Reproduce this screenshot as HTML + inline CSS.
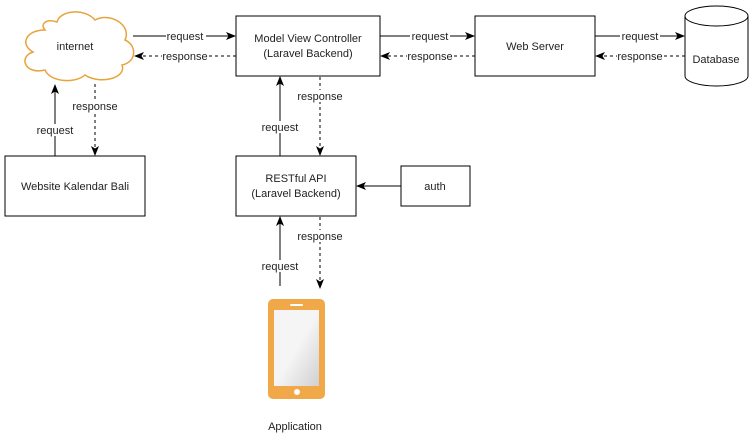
<!DOCTYPE html>
<html><head><style>body{margin:0;background:#fff}svg{display:block}text{font-family:"Liberation Sans",sans-serif;font-size:11px;fill:#222}</style></head><body>
<svg width="751" height="447" viewBox="0 0 751 447">
<defs>
<marker id="a" markerWidth="10" markerHeight="10" refX="9" refY="5" orient="auto" markerUnits="userSpaceOnUse"><path d="M0,1 L10,5 L0,9 L2.5,5z" fill="#000"/></marker>
</defs>
<g stroke="#000" fill="none" stroke-width="1">
<path d="M45,30 C25,30 20,45 33,52 C18,57 25,75 45,70 C50,82 75,84 85,75 C100,85 127,78 122,65 C137,62 137,45 125,40 C132,25 110,12 95,20 C85,8 60,10 57,22 C45,18 40,25 45,30z" stroke="#e8a33c" stroke-width="1.5" fill="#fff"/>
<rect x="236" y="16" width="144" height="60"/>
<rect x="475" y="16" width="120" height="60"/>
<rect x="5" y="156" width="140" height="60"/>
<rect x="236" y="156" width="120" height="60"/>
<rect x="401" y="166" width="69" height="40"/>
<path d="M685,16 L685,76 A31.5,10 0 0 0 748,76 L748,16"/>
<ellipse cx="716.5" cy="16" rx="31.5" ry="10"/>
<line x1="133" y1="36" x2="235" y2="36" marker-end="url(#a)"/>
<line x1="236" y1="56" x2="135" y2="56" stroke-dasharray="3,3" marker-end="url(#a)"/>
<line x1="380" y1="36" x2="474" y2="36" marker-end="url(#a)"/>
<line x1="475" y1="56" x2="381" y2="56" stroke-dasharray="3,3" marker-end="url(#a)"/>
<line x1="595" y1="36" x2="684" y2="36" marker-end="url(#a)"/>
<line x1="685" y1="56" x2="596" y2="56" stroke-dasharray="3,3" marker-end="url(#a)"/>
<line x1="55" y1="156" x2="55" y2="85" marker-end="url(#a)"/>
<line x1="95" y1="84" x2="95" y2="155" stroke-dasharray="3,3" marker-end="url(#a)"/>
<line x1="280" y1="156" x2="280" y2="77" marker-end="url(#a)"/>
<line x1="320" y1="77" x2="320" y2="155" stroke-dasharray="3,3" marker-end="url(#a)"/>
<line x1="280" y1="286" x2="280" y2="217" marker-end="url(#a)"/>
<line x1="320" y1="217" x2="320" y2="288" stroke-dasharray="3,3" marker-end="url(#a)"/>
<line x1="401" y1="186" x2="357" y2="186" marker-end="url(#a)"/>
</g>
<rect x="268" y="299" width="57" height="100" rx="5" fill="#f0a848"/>
<defs><linearGradient id="g" x1="0" y1="0" x2="1" y2="1"><stop offset="0.5" stop-color="#f5f5f5"/><stop offset="1" stop-color="#d0d0d0"/></linearGradient></defs>
<rect x="274" y="310" width="45" height="76" fill="url(#g)"/>
<rect x="290" y="304" width="13" height="2" rx="1" fill="#fff"/>
<circle cx="297" cy="392" r="3" fill="#fff"/>
<g text-anchor="middle">
<text x="75" y="50" font-size="12">internet</text>
<text x="308" y="42" font-size="12.5">Model View Controller</text>
<text x="308" y="57" font-size="12.5">(Laravel Backend)</text>
<text x="535" y="50" font-size="12.5">Web Server</text>
<text x="716" y="63" font-size="13">Database</text>
<text x="75" y="190" font-size="12.5">Website Kalendar Bali</text>
<text x="296" y="182" font-size="12.5">RESTful API</text>
<text x="296" y="197" font-size="12.5">(Laravel Backend)</text>
<text x="435" y="190" font-size="12.5">auth</text>
<text x="295" y="430" font-size="12.5">Application</text>
</g>
<g text-anchor="middle" font-size="10">
<rect x="166" y="30" width="40" height="12" fill="#fff"/><text x="185" y="40">request</text>
<rect x="162" y="50" width="46" height="12" fill="#fff"/><text x="185" y="60">response</text>
<rect x="410" y="30" width="40" height="12" fill="#fff"/><text x="430" y="40">request</text>
<rect x="407" y="50" width="46" height="12" fill="#fff"/><text x="430" y="60">response</text>
<rect x="620" y="30" width="40" height="12" fill="#fff"/><text x="640" y="40">request</text>
<rect x="617" y="50" width="46" height="12" fill="#fff"/><text x="640" y="60">response</text>
<rect x="36" y="124" width="38" height="12" fill="#fff"/><text x="55" y="134">request</text>
<rect x="72" y="100" width="46" height="12" fill="#fff"/><text x="95" y="110">response</text>
<rect x="261" y="121" width="38" height="12" fill="#fff"/><text x="280" y="131">request</text>
<rect x="297" y="90" width="46" height="12" fill="#fff"/><text x="320" y="100">response</text>
<rect x="261" y="260" width="38" height="12" fill="#fff"/><text x="280" y="270">request</text>
<rect x="297" y="230" width="46" height="12" fill="#fff"/><text x="320" y="240">response</text>
</g>
</svg>
</body></html>
